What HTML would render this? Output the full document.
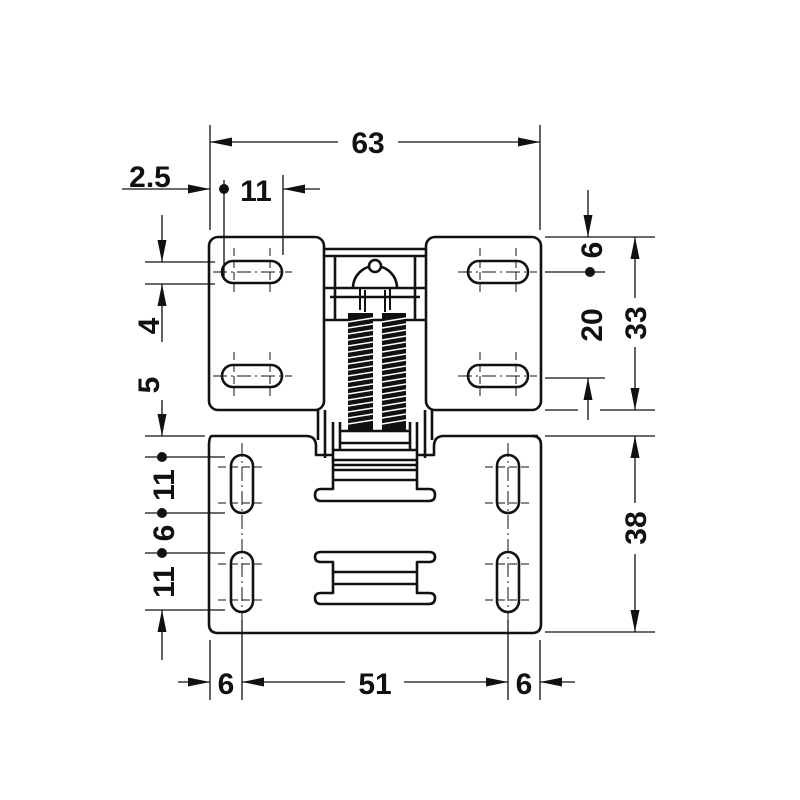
<!DOCTYPE html>
<html><head><meta charset="utf-8"><style>html,body{margin:0;padding:0;background:#fff}svg{display:block}</style></head>
<body>
<svg width="800" height="800" viewBox="0 0 800 800" xmlns="http://www.w3.org/2000/svg">
<defs>
<marker id="a" viewBox="0 0 22 9" refX="22" refY="4.5" markerWidth="22" markerHeight="9" markerUnits="userSpaceOnUse" orient="auto"><path d="M0,0 L22,4.5 L0,9 z" fill="#111"/></marker>
</defs>
<g font-family="Liberation Sans, sans-serif" font-weight="bold" font-size="30" fill="#111" text-anchor="middle">
<g stroke="#111" stroke-width="1.3" fill="none">
<line x1="210" y1="125" x2="210" y2="230"/><line x1="540" y1="125" x2="540" y2="230"/>
<line x1="338" y1="142" x2="210" y2="142" marker-end="url(#a)"/>
<line x1="398" y1="142" x2="540" y2="142" marker-end="url(#a)"/>
<line x1="224" y1="180" x2="224" y2="280"/><line x1="283" y1="175" x2="283" y2="255"/>
<line x1="122" y1="189" x2="210" y2="189" marker-end="url(#a)"/>
<line x1="320" y1="189" x2="283" y2="189" marker-end="url(#a)"/>
<line x1="145" y1="262" x2="215" y2="262"/><line x1="145" y1="284" x2="215" y2="284"/>
<line x1="162" y1="215" x2="162" y2="262" marker-end="url(#a)"/>
<line x1="162" y1="342" x2="162" y2="284" marker-end="url(#a)"/>
<line x1="162" y1="400" x2="162" y2="436" marker-end="url(#a)"/>
<line x1="145" y1="436" x2="205" y2="436"/>
<line x1="145" y1="457" x2="225" y2="457"/><line x1="145" y1="513" x2="225" y2="513"/>
<line x1="145" y1="553" x2="225" y2="553"/><line x1="145" y1="610" x2="225" y2="610"/>
<line x1="162" y1="660" x2="162" y2="610" marker-end="url(#a)"/>
<line x1="210" y1="640" x2="210" y2="700"/><line x1="242" y1="620" x2="242" y2="700"/>
<line x1="508" y1="620" x2="508" y2="700"/><line x1="540" y1="640" x2="540" y2="700"/>
<line x1="178" y1="682" x2="210" y2="682" marker-end="url(#a)"/>
<line x1="345" y1="682" x2="242" y2="682" marker-end="url(#a)"/>
<line x1="404" y1="682" x2="508" y2="682" marker-end="url(#a)"/>
<line x1="575" y1="682" x2="540" y2="682" marker-end="url(#a)"/>
<line x1="545" y1="237" x2="655" y2="237"/><line x1="545" y1="272" x2="605" y2="272"/>
<line x1="545" y1="378" x2="605" y2="378"/>
<line x1="545" y1="410" x2="578" y2="410"/><line x1="600" y1="410" x2="655" y2="410"/>
<line x1="588" y1="190" x2="588" y2="237" marker-end="url(#a)"/>
<line x1="588" y1="420" x2="588" y2="378" marker-end="url(#a)"/>
<line x1="635" y1="298" x2="635" y2="237" marker-end="url(#a)"/>
<line x1="635" y1="347" x2="635" y2="410" marker-end="url(#a)"/>
<line x1="545" y1="436" x2="655" y2="436"/><line x1="545" y1="632" x2="655" y2="632"/>
<line x1="635" y1="503" x2="635" y2="436" marker-end="url(#a)"/>
<line x1="635" y1="554" x2="635" y2="632" marker-end="url(#a)"/>
</g>
<circle cx="224" cy="189" r="5"/><circle cx="162" cy="457" r="5"/><circle cx="162" cy="513" r="5"/><circle cx="162" cy="553" r="5"/><circle cx="590" cy="272" r="5"/>
<text x="368" y="153">63</text>
<text x="150" y="187">2.5</text>
<text x="256" y="201">11</text>
<text x="226" y="694">6</text><text x="375" y="694">51</text><text x="524" y="694">6</text>
<text transform="translate(159,326) rotate(-90)">4</text>
<text transform="translate(159,385) rotate(-90)">5</text>
<text transform="translate(174,485) rotate(-90)">11</text>
<text transform="translate(174,533) rotate(-90)">6</text>
<text transform="translate(174,582) rotate(-90)">11</text>
<text transform="translate(602,250) rotate(-90)">6</text>
<text transform="translate(602,325) rotate(-90)">20</text>
<text transform="translate(646,323) rotate(-90)">33</text>
<text transform="translate(646,528) rotate(-90)">38</text>
</g>
<g stroke="#111" stroke-width="2.6" fill="none" stroke-linejoin="round">
<rect x="209" y="237" width="115" height="173" rx="9"/>
<rect x="426" y="237" width="115" height="173" rx="9"/>
<line x1="324" y1="249" x2="426" y2="249"/><line x1="324" y1="256" x2="426" y2="256"/>
<line x1="335" y1="256" x2="335" y2="320"/><line x1="415" y1="256" x2="415" y2="320"/>
<line x1="324" y1="288" x2="426" y2="288"/><line x1="330" y1="297" x2="420" y2="297"/>
<line x1="324" y1="320" x2="426" y2="320"/>
<path d="M353,288 A22,22 0 0 1 397,288"/>
<circle cx="375" cy="266" r="6" fill="#fff"/>
<path d="M360,288 L360,310 M390,288 L390,310 M365,290 L365,312 M385,290 L385,312" stroke-width="2"/>
<path d="M212,436 H306 Q316,436 316,446 V455 H333"/>
<path d="M538,436 H444 Q434,436 434,446 V455 H417"/>
<line x1="318" y1="410" x2="318" y2="440"/><line x1="432" y1="410" x2="432" y2="440"/>
<line x1="325" y1="410" x2="325" y2="458"/><line x1="333" y1="422" x2="333" y2="460"/>
<line x1="425" y1="410" x2="425" y2="458"/><line x1="417" y1="422" x2="417" y2="460"/>
<line x1="340" y1="431" x2="410" y2="431"/><line x1="340" y1="443" x2="410" y2="443"/><line x1="333" y1="450" x2="417" y2="450"/>
<line x1="340" y1="422" x2="340" y2="450"/><line x1="410" y1="422" x2="410" y2="450"/>
<path d="M212,436 Q209,436 209,446 V624 Q209,633 218,633 H532 Q541,633 541,624 V445 Q541,436 532,436"/>
<path d="M333,460 H417 V489 H429 Q435,489 435,495 Q435,501 429,501 H321 Q315,501 315,495 Q315,489 321,489 H333 Z"/>
<line x1="333" y1="465" x2="417" y2="465"/><line x1="333" y1="470" x2="417" y2="470"/><line x1="333" y1="480" x2="417" y2="480"/>
<path d="M321,552 H429 Q435,552 435,557 Q435,562 429,562 H417 V593 H429 Q435,593 435,598 Q435,604 429,604 H321 Q315,604 315,598 Q315,593 321,593 H333 V562 H321 Q315,562 315,557 Q315,552 321,552 Z"/>
<line x1="333" y1="572" x2="417" y2="572"/><line x1="333" y1="584" x2="417" y2="584"/>
<rect x="222" y="261" width="60" height="22" rx="11"/>
<rect x="222" y="365" width="60" height="22" rx="11"/>
<rect x="468" y="261" width="60" height="22" rx="11"/>
<rect x="468" y="365" width="60" height="22" rx="11"/>
<rect x="231" y="455" width="22" height="58" rx="11"/>
<rect x="231" y="552" width="22" height="60" rx="11"/>
<rect x="497" y="455" width="22" height="58" rx="11"/>
<rect x="497" y="552" width="22" height="60" rx="11"/>
</g>
<g>
<rect x="348" y="313" width="25" height="117" fill="#111"/>
<rect x="382" y="313" width="24" height="117" fill="#111"/>
<g stroke="#fff" stroke-width="1.6">
<path d="M348,322 l25,-4 M348,328 l25,-4 M348,334 l25,-4 M348,340 l25,-4 M348,346 l25,-4 M348,352 l25,-4 M348,358 l25,-4 M348,364 l25,-4 M348,370 l25,-4 M348,376 l25,-4 M348,382 l25,-4 M348,388 l25,-4 M348,394 l25,-4 M348,400 l25,-4 M348,406 l25,-4 M348,412 l25,-4 M348,418 l25,-4 M348,424 l25,-4"/>
<path d="M382,322 l24,-4 M382,328 l24,-4 M382,334 l24,-4 M382,340 l24,-4 M382,346 l24,-4 M382,352 l24,-4 M382,358 l24,-4 M382,364 l24,-4 M382,370 l24,-4 M382,376 l24,-4 M382,382 l24,-4 M382,388 l24,-4 M382,394 l24,-4 M382,400 l24,-4 M382,406 l24,-4 M382,412 l24,-4 M382,418 l24,-4 M382,424 l24,-4"/>
</g>
</g>
<g stroke="#111" stroke-width="1" fill="none" stroke-dasharray="14,4,2,4">
<line x1="213" y1="272" x2="292" y2="272"/><line x1="213" y1="376" x2="292" y2="376"/>
<line x1="458" y1="272" x2="537" y2="272"/><line x1="458" y1="376" x2="537" y2="376"/>
<line x1="242" y1="443" x2="242" y2="625"/><line x1="508" y1="443" x2="508" y2="625"/>
</g>
<g stroke="#111" stroke-width="1" fill="none" stroke-dasharray="8,4">
<line x1="234" y1="248" x2="234" y2="295"/><line x1="270" y1="248" x2="270" y2="295"/>
<line x1="234" y1="352" x2="234" y2="400"/><line x1="270" y1="352" x2="270" y2="400"/>
<line x1="480" y1="248" x2="480" y2="295"/><line x1="516" y1="248" x2="516" y2="295"/>
<line x1="480" y1="352" x2="480" y2="400"/><line x1="516" y1="352" x2="516" y2="400"/>
<line x1="218" y1="467" x2="265" y2="467"/><line x1="218" y1="503" x2="265" y2="503"/>
<line x1="218" y1="564" x2="265" y2="564"/><line x1="218" y1="600" x2="265" y2="600"/>
<line x1="485" y1="467" x2="531" y2="467"/><line x1="485" y1="503" x2="531" y2="503"/>
<line x1="485" y1="564" x2="531" y2="564"/><line x1="485" y1="600" x2="531" y2="600"/>
</g>
</svg>
</body></html>
